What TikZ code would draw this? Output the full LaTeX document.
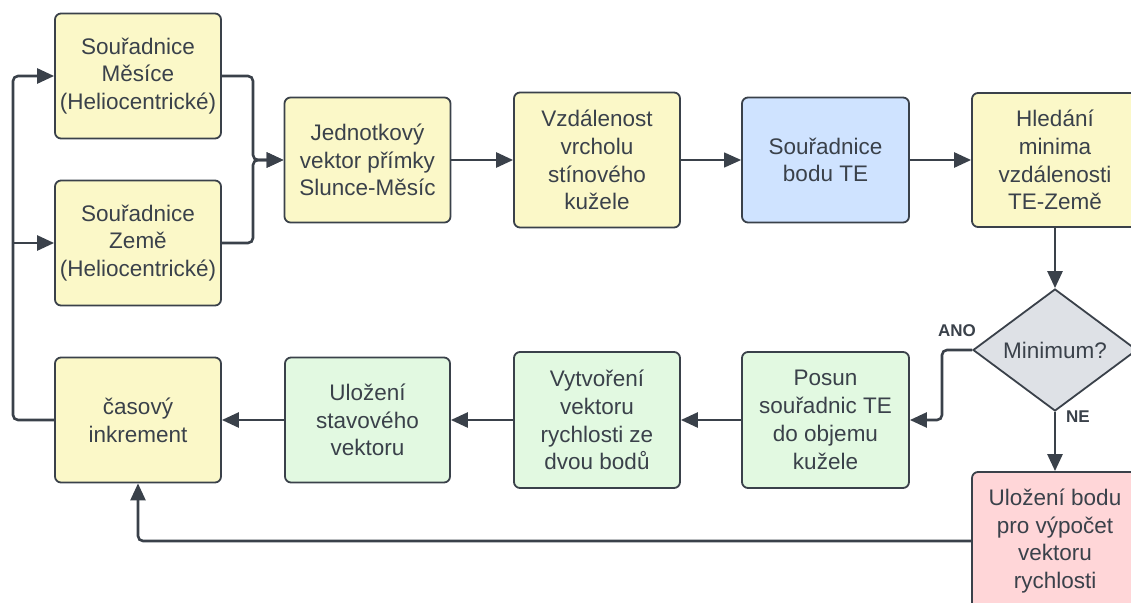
\documentclass[tikz,border=0pt]{standalone}
\usepackage{fontspec}
\setmainfont{Liberation Sans}
\usetikzlibrary{arrows.meta,shapes.geometric}
\definecolor{ln}{HTML}{3A414A}
\definecolor{yel}{HTML}{FBF8C8}
\definecolor{blu}{HTML}{CFE3FF}
\definecolor{grn}{HTML}{E2F9E1}
\definecolor{pnk}{HTML}{FFD6D8}
\definecolor{gry}{HTML}{DEE1E6}
\begin{document}
\begin{tikzpicture}[x=1pt,y=-1pt,
  box/.style={draw=ln, line width=1.8pt, rounded corners=6pt, align=center, text=ln,
    font=\fontsize{22.5}{27.8}\selectfont, minimum width=166pt, minimum height=125pt, inner sep=0pt},
  conn/.style={draw=ln, line width=2.6pt, rounded corners=5pt, -{Triangle[length=17pt,width=15pt]}},
  thin/.style={draw=ln, line width=1.3pt, -{Triangle[length=17pt,width=15pt]}},
  lab/.style={font=\bfseries\fontsize{17}{20}\selectfont, text=ln}]
\useasboundingbox (0,0) rectangle (1131,602);
\node[box, fill=yel] (m1) at (138,76) {Souřadnice\\Měsíce\\(Heliocentrické)};
\node[box, fill=yel] (m2) at (138,243) {Souřadnice\\Země\\(Heliocentrické)};
\node[box, fill=yel] (ci) at (138,420) {časový\\inkrement};
\node[box, fill=yel] (jv) at (367.5,160) {Jednotkový\\vektor přímky\\Slunce-Měsíc};
\node[box, fill=yel, minimum height=135pt] (vz) at (597,160) {Vzdálenost\\vrcholu\\stínového\\kužele};
\node[box, fill=blu, minimum width=167pt] (te) at (825.5,160) {Souřadnice\\bodu TE};
\node[box, fill=yel, minimum height=134pt] (hm) at (1055,160) {Hledání\\minima\\vzdálenosti\\TE-Země};
\node[draw=ln, line width=1.8pt, fill=gry, shape=diamond, aspect=1.34, minimum width=164pt, minimum height=122pt, inner sep=0pt, text=ln, font=\fontsize{22.5}{27.8}\selectfont] (dm) at (1055,350) {Minimum?};
\node[box, fill=pnk, minimum height=138pt] (pk) at (1055,541) {Uložení bodu\\pro výpočet\\vektoru\\rychlosti};
\node[box, fill=grn, minimum width=167pt, minimum height=136pt] (po) at (825.5,420) {Posun\\souřadnic TE\\do objemu\\kužele};
\node[box, fill=grn, minimum height=136pt] (vy) at (597,420) {Vytvoření\\vektoru\\rychlosti ze\\dvou bodů};
\node[box, fill=grn, minimum width=165pt] (us) at (367.5,420) {Uložení\\stavového\\vektoru};
\coordinate (j) at (253,160);
\coordinate (lx) at (13,243);
\coordinate (a) at (942,420);
\draw[conn] (m1.east) -| (j) -- (jv.west);
\draw[conn] (m2.east) -| (j) -- (jv.west);
\draw[conn] (jv.east) -- (vz.west);
\draw[thin] (vz.east) -- (te.west);
\draw[conn] (te.east) -- (hm.west);
\draw[conn] (hm.south) -- (dm.north);
\draw[conn] (dm.west) -| (a) -- (po.east);
\draw[conn] (dm.south) -- (pk.north);
\draw[conn] (po.west) -- (vy.east);
\draw[conn] (vy.west) -- (us.east);
\draw[conn] (us.west) -- (ci.east);
\draw[conn] (pk.west) -| (ci.south);
\draw[conn] (ci.west) -| (lx) |- (m1.west);
\draw[conn] (lx) -- (m2.west);
\node[lab] (ano) at (957,331) {ANO};
\node[lab] (ne) at (1078,417) {NE};
\end{tikzpicture}
\end{document}
